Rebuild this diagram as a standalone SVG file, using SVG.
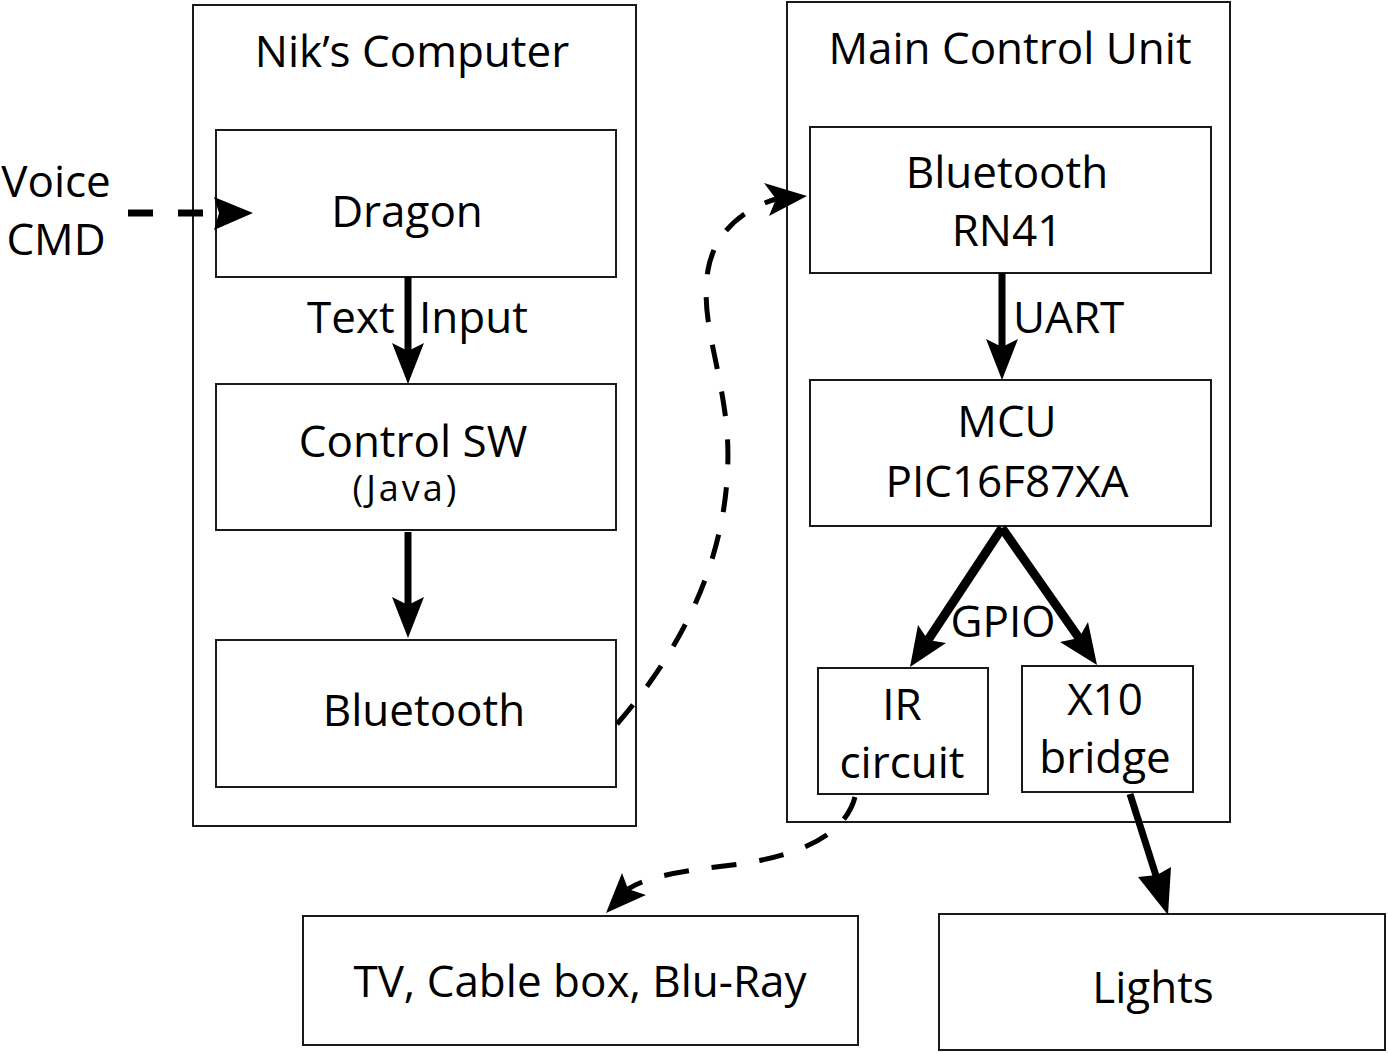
<svg xmlns="http://www.w3.org/2000/svg" width="1388" height="1053" viewBox="0 0 1388 1053">
<style>
  .box { fill: #fff; stroke: #1a1a1a; stroke-width: 2; }
  .t { font-family: "Open Sans", "Noto Sans", "Liberation Sans", sans-serif; font-size: 44px; fill: #000; text-anchor: middle; }
  .small { font-size: 36px; }
  .solid { fill: none; stroke: #000; stroke-width: 7; }
  .thick { fill: none; stroke: #000; stroke-width: 9; }
  .dash { fill: none; stroke: #000; stroke-width: 5; stroke-dasharray: 25 23; }
  .dashbold { fill: none; stroke: #000; stroke-width: 7; stroke-dasharray: 25 25; }
  .head { fill: #000; stroke: none; }
</style>
<rect width="1388" height="1053" fill="#fff"/>

<g id="niks-computer">
  <rect class="box" x="193" y="5" width="443" height="821"/>
  <text class="t" x="412" y="67">Nik’s Computer</text>
</g>
<g id="main-control-unit">
  <rect class="box" x="787" y="2" width="443" height="820"/>
  <text class="t" x="1010" y="64">Main Control Unit</text>
</g>

<g id="voice-cmd">
  <text class="t" x="56" y="197">Voice</text>
  <text class="t" x="56" y="255">CMD</text>
</g>

<g id="dragon">
  <rect class="box" x="216" y="130" width="400" height="147"/>
  <text class="t" x="407" y="227">Dragon</text>
</g>
<g id="control-sw">
  <rect class="box" x="216" y="384" width="400" height="146"/>
  <text class="t" x="413" y="457">Control SW</text>
  <text class="t small" x="406" y="501" letter-spacing="3">(Java)</text>
</g>
<g id="bluetooth-pc">
  <rect class="box" x="216" y="640" width="400" height="147"/>
  <text class="t" x="424" y="726">Bluetooth</text>
</g>

<g id="bluetooth-rn41">
  <rect class="box" x="810" y="127" width="401" height="146"/>
  <text class="t" x="1007" y="188">Bluetooth</text>
  <text class="t" x="1007" y="246">RN41</text>
</g>
<g id="mcu">
  <rect class="box" x="810" y="380" width="401" height="146"/>
  <text class="t" x="1007" y="437">MCU</text>
  <text class="t" x="1007" y="497">PIC16F87XA</text>
</g>
<g id="ir-circuit">
  <rect class="box" x="818" y="668" width="170" height="126"/>
  <text class="t" x="902" y="720">IR</text>
  <text class="t" x="902" y="778">circuit</text>
</g>
<g id="x10-bridge">
  <rect class="box" x="1022" y="666" width="171" height="126"/>
  <text class="t" x="1105" y="715">X10</text>
  <text class="t" x="1105" y="773">bridge</text>
</g>
<g id="tv">
  <rect class="box" x="303" y="916" width="555" height="129"/>
  <text class="t" x="580" y="997">TV, Cable box, Blu-Ray</text>
</g>
<g id="lights">
  <rect class="box" x="939" y="914" width="446" height="136"/>
  <text class="t" x="1153" y="1003">Lights</text>
</g>

<g id="connectors">
  <!-- Voice CMD to Dragon -->
  <path class="dashbold" d="M128,213 H210"/>
  <polygon class="head" points="253,213 214,197 219,213 214,230"/>

  <!-- Dragon to Control SW -->
  <path class="solid" d="M408,277 V352"/>
  <polygon class="head" points="408,384 392,343 408,351 424,343"/>
  <text class="t" y="333" style="text-anchor:start"><tspan x="307">Text</tspan> <tspan x="419">Input</tspan></text>

  <!-- Control SW to Bluetooth -->
  <path class="solid" d="M408,532 V606"/>
  <polygon class="head" points="408,638 392,597 408,605 424,597"/>

  <!-- Bluetooth PC to Bluetooth RN41 (wireless) -->
  <path class="dash" d="M617,724 C690,640 735,540 727,430 C720,360 700,320 708,270 C714,235 740,210 776,199"/>
  <polygon class="head" points="807,196 764,183 776,199 769,216"/>

  <!-- UART -->
  <path class="solid" d="M1002,273 V348"/>
  <polygon class="head" points="1002,380 986,339 1002,347 1018,339"/>
  <text class="t" x="1013" y="333" style="text-anchor:start">UART</text>

  <!-- GPIO -->
  <path class="thick" d="M1002,528 L928,640"/>
  <polygon class="head" points="910,667 918,625 928,640 946,643"/>
  <path class="thick" d="M1002,528 L1079,638"/>
  <polygon class="head" points="1097,665 1060,642 1079,638 1088,622"/>
  <text class="t" x="1003" y="637">GPIO</text>

  <!-- IR circuit to TV -->
  <path class="dash" d="M855,797 C845,835 800,855 740,864 C690,870 650,875 628,889"/>
  <polygon class="head" points="606,913 622,873 628,889 646,895"/>

  <!-- X10 to Lights -->
  <path class="solid" d="M1130,794 L1158,882"/>
  <polygon class="head" points="1168,915 1138,877 1157,875 1171,867"/>
</g>
</svg>
